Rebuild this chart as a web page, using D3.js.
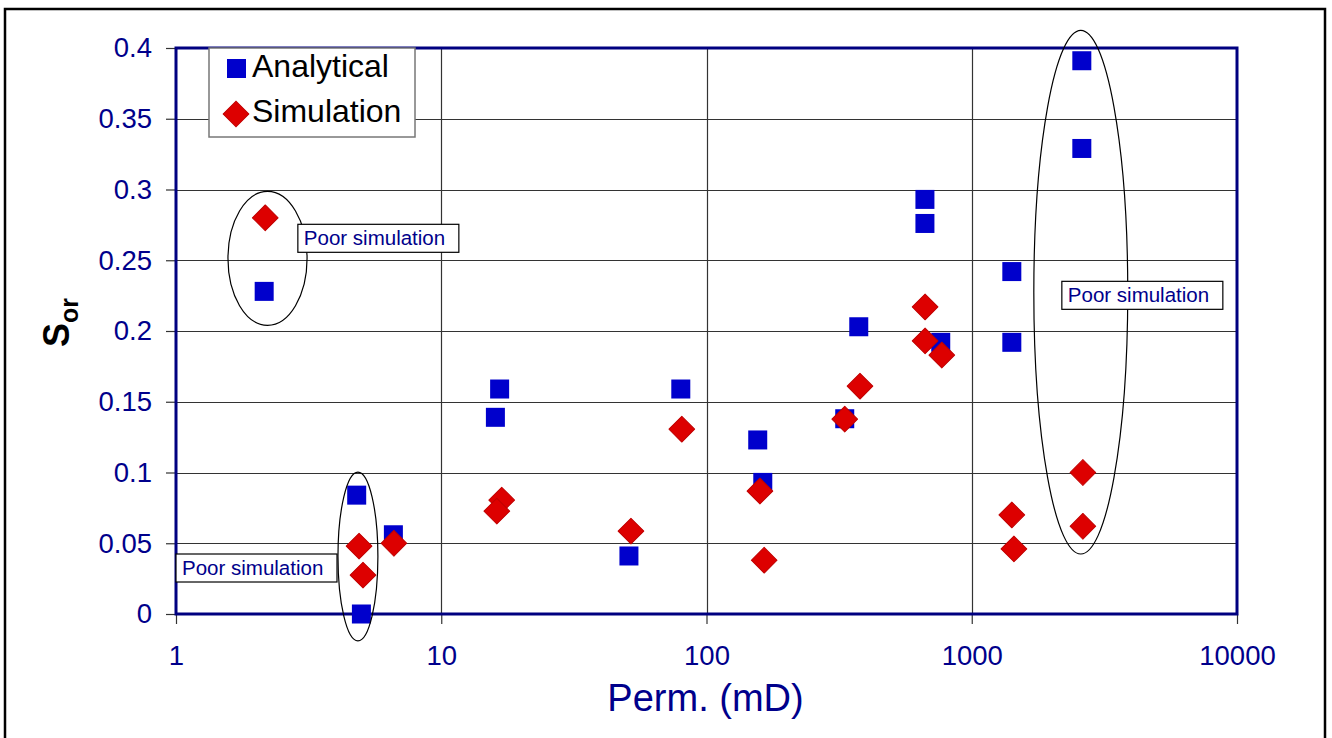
<!DOCTYPE html>
<html>
<head>
<meta charset="utf-8">
<script src="https://cdn.jsdelivr.net/npm/d3@7"></script>
<style>
  body { margin: 0; background: #fff; }
  svg { display: block; font-family: "Liberation Sans", Arial, sans-serif; }
</style>
</head>
<body>
<div id="chart"></div>
<script>
// analytical Sor vs permeability
var analyticalPerm = [2.15, 4.8, 5.0, 6.6, 16, 16.6, 51, 80, 156, 163, 332, 375, 666, 666, 764, 1416, 1416, 2600, 2600];
var analyticalSor  = [0.228, 0.084, 0.0, 0.056, 0.139, 0.159, 0.041, 0.159, 0.123, 0.093, 0.138, 0.203, 0.293, 0.276, 0.192, 0.242, 0.192, 0.391, 0.329];

// simulation Sor vs permeability
var simulationPerm = [2.17, 4.9, 5.07, 6.63, 16.9, 16.2, 51.9, 80.7, 159, 165, 332, 379, 667, 667, 771, 1416, 1442, 2624, 2624];
var simulationSor  = [0.280, 0.048, 0.0275, 0.050, 0.0805, 0.0727, 0.0586, 0.1306, 0.0869, 0.038, 0.1377, 0.161, 0.217, 0.193, 0.183, 0.070, 0.046, 0.100, 0.062];

var xTicks = [1, 10, 100, 1000, 10000];
var yTicks = [0, 0.05, 0.1, 0.15, 0.2, 0.25, 0.3, 0.35, 0.4];

// "poor simulation" rings, given as data bounds [perm0, perm1, sor0, sor1]
var rings = [
  [1.57, 3.12, 0.204, 0.2987],
  [4.08, 5.77, -0.019, 0.1003],
  [1714, 3874, 0.0424, 0.4124]
];
// note boxes: anchor (perm, sor) of top-left corner
var notes = [
  {perm: 2.88, sor: 0.2754, text: "Poor simulation"},
  {perm: 1.0, sor: 0.0424, text: "Poor simulation"},
  {perm: 2186, sor: 0.2351, text: "Poor simulation"}
];

var width = 1332, height = 738;
var plotLeft = 176, plotRight = 1237, plotTop = 48, plotBottom = 614;

var svg = d3.select("#chart").append("svg")
  .attr("width", width).attr("height", height);

// outer frame
svg.append("rect")
  .attr("x", 5).attr("y", 9).attr("width", 1320).attr("height", 740)
  .attr("fill", "none").attr("stroke", "#000").attr("stroke-width", 2.5);

var x = d3.scaleLog().domain([1, 10000]).range([plotLeft, plotRight]);
var y = d3.scaleLinear().domain([0, 0.4]).range([plotBottom, plotTop]);

var navy = "#00008b";

// grid
svg.append("g").selectAll("line").data(yTicks.slice(1, -1)).enter().append("line")
  .attr("x1", plotLeft).attr("x2", plotRight)
  .attr("y1", function(d) { return Math.round(y(d)) + 0.5; })
  .attr("y2", function(d) { return Math.round(y(d)) + 0.5; })
  .attr("stroke", "#333").attr("stroke-width", 1.2);
svg.append("g").selectAll("line").data(xTicks.slice(1, -1)).enter().append("line")
  .attr("y1", plotTop).attr("y2", plotBottom)
  .attr("x1", function(d) { return Math.round(x(d)) + 0.5; })
  .attr("x2", function(d) { return Math.round(x(d)) + 0.5; })
  .attr("stroke", "#333").attr("stroke-width", 1.2);

// axes
var yAxis = d3.axisLeft(y).tickValues(yTicks).tickSize(10).tickPadding(14)
  .tickFormat(function(d) { return d3.format("")(+d.toFixed(2)); });
var xAxis = d3.axisBottom(x).tickValues(xTicks).tickSize(10).tickPadding(16)
  .tickFormat(d3.format("d"));

var gy = svg.append("g").attr("transform", "translate(" + plotLeft + ",0)").call(yAxis);
var gx = svg.append("g").attr("transform", "translate(0," + plotBottom + ")").call(xAxis);
[gy, gx].forEach(function(g) {
  g.select(".domain").remove();
  g.selectAll(".tick line").attr("stroke", "#333").attr("stroke-width", 1.2);
  g.selectAll("text").attr("fill", navy).attr("font-size", 27.5)
    .attr("font-family", "Liberation Sans, Arial, sans-serif");
});
gx.selectAll("text").attr("dy", "0.9em");

// plot border
svg.append("rect")
  .attr("x", plotLeft).attr("y", plotTop).attr("width", plotRight - plotLeft).attr("height", plotBottom - plotTop)
  .attr("fill", "none").attr("stroke", "#000080").attr("stroke-width", 3);

// axis titles
svg.append("text")
  .attr("x", (plotLeft + plotRight) / 2 - 1).attr("y", 711)
  .attr("text-anchor", "middle").attr("fill", navy).attr("font-size", 38)
  .text("Perm. (mD)");

var yt = svg.append("text")
  .attr("transform", "translate(69,347) rotate(-90)")
  .attr("font-weight", "bold").attr("fill", "#000").attr("font-size", 36);
yt.append("tspan").text("S");
yt.append("tspan").attr("font-size", 25).attr("dy", 9).text("or");

// markers
var squareSize = 19;
svg.append("g").selectAll("rect").data(d3.range(analyticalPerm.length)).enter().append("rect")
  .attr("x", function(i) { return x(analyticalPerm[i]) - squareSize / 2; })
  .attr("y", function(i) { return y(analyticalSor[i]) - squareSize / 2; })
  .attr("width", squareSize).attr("height", squareSize)
  .attr("fill", "#0000cc");

var diamond = d3.symbol().type(d3.symbolSquare).size(330);
svg.append("g").selectAll("path").data(d3.range(simulationPerm.length)).enter().append("path")
  .attr("d", diamond)
  .attr("transform", function(i) {
    return "translate(" + x(simulationPerm[i]) + "," + y(simulationSor[i]) + ") rotate(45)";
  })
  .attr("fill", "#dd0000").attr("stroke", "#c00000").attr("stroke-width", 1)
  .attr("stroke-linejoin", "round");

// ellipses
svg.append("g").selectAll("ellipse").data(rings).enter().append("ellipse")
  .attr("cx", function(d) { return (x(d[0]) + x(d[1])) / 2; })
  .attr("cy", function(d) { return (y(d[2]) + y(d[3])) / 2; })
  .attr("rx", function(d) { return (x(d[1]) - x(d[0])) / 2; })
  .attr("ry", function(d) { return (y(d[2]) - y(d[3])) / 2; })
  .attr("fill", "none").attr("stroke", "#000").attr("stroke-width", 1.2);

// note boxes
var nb = svg.append("g").selectAll("g").data(notes).enter().append("g")
  .attr("transform", function(d) { return "translate(" + x(d.perm) + "," + y(d.sor) + ")"; });
nb.append("rect").attr("width", 161).attr("height", 28)
  .attr("fill", "#fff").attr("stroke", "#000").attr("stroke-width", 1.2);
nb.append("text").attr("x", 6).attr("y", 21).attr("fill", navy).attr("font-size", 20.5)
  .text(function(d) { return d.text; });

// legend
var lg = svg.append("g").attr("transform", "translate(209,48)");
lg.append("rect").attr("width", 206).attr("height", 89)
  .attr("fill", "#fff").attr("stroke", "#777").attr("stroke-width", 1.5);
lg.append("rect").attr("x", 18).attr("y", 11).attr("width", 19).attr("height", 19).attr("fill", "#0000cc");
lg.append("path").attr("d", diamond)
  .attr("transform", "translate(27,66) rotate(45)")
  .attr("fill", "#dd0000").attr("stroke", "#c00000");
lg.append("text").attr("x", 43).attr("y", 29).attr("font-size", 32).attr("fill", "#000").text("Analytical");
lg.append("text").attr("x", 43).attr("y", 74).attr("font-size", 32).attr("fill", "#000").text("Simulation");
</script>
</body>
</html>
